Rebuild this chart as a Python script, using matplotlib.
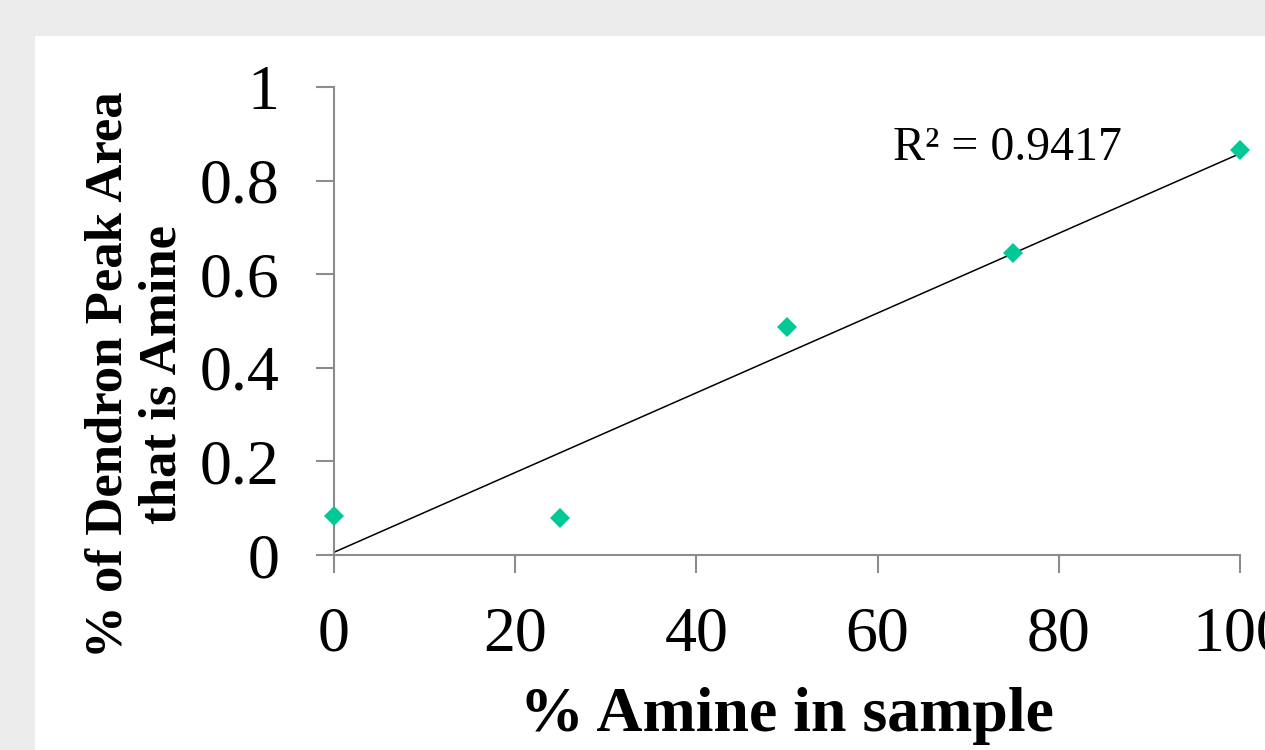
import numpy as np
import matplotlib
matplotlib.use("Agg")
import matplotlib.pyplot as plt
from matplotlib.patches import Rectangle

# Data
amine_pct = [0, 25, 50, 75, 100]
amine_fraction = [0.083, 0.079, 0.487, 0.645, 0.865]
x_ticks = [0, 20, 40, 60, 80, 100]
y_ticks = [0, 0.2, 0.4, 0.6, 0.8, 1.0]
y_tick_labels = ["0", "0.2", "0.4", "0.6", "0.8", "1"]
r2_label = "R² = 0.9417"
x_label = "% Amine in sample"
y_label = "% of Dendron Peak Area\nthat is Amine"

plt.rcParams['font.family'] = ['Liberation Serif', 'DejaVu Serif']

W, H = 1265, 750
fig = plt.figure(figsize=(W / 100, H / 100), dpi=100)
fig.patch.set_facecolor('#ececec')
fig.patches.append(Rectangle((35 / W, 0), 1 - 35 / W, (H - 36) / H,
                             transform=fig.transFigure, facecolor='white',
                             edgecolor='none', zorder=-5))

ax = fig.add_axes([334 / W, (H - 555) / H, (1240 - 334) / W, (555 - 87) / H])
ax.set_facecolor('none')

# trendline
coef = np.polyfit(amine_pct, amine_fraction, 1)
xx = np.array([0, 100])
ax.plot(xx, np.polyval(coef, xx), color='black', lw=1.1, zorder=2)

ax.plot(amine_pct, amine_fraction, linestyle='none', marker='D',
        markersize=10, color='#00C996', markeredgewidth=0, zorder=3,
        clip_on=False)

ax.set_xlim(0, 100)
ax.set_ylim(0, 1)
ax.set_xticks(x_ticks)
ax.set_xticklabels([str(t) for t in x_ticks])
ax.set_yticks(y_ticks)
ax.set_yticklabels(y_tick_labels)

for s in ['top', 'right']:
    ax.spines[s].set_visible(False)
for s in ['left', 'bottom']:
    ax.spines[s].set_color('#8c8c8c')
    ax.spines[s].set_linewidth(1.5)

ax.tick_params(axis='both', direction='out', length=13, width=1.5,
               color='#8c8c8c', labelsize=46, labelcolor='black')
ax.tick_params(axis='x', pad=24)
ax.tick_params(axis='y', pad=26)

ax.set_xlabel(x_label, fontsize=46, fontweight='bold', labelpad=16)
ax.set_ylabel(y_label, fontsize=38, fontweight='bold', linespacing=1.15)
ax.yaxis.set_label_coords(-0.163, 0.385)

ax.text(61.7, 0.844, r2_label, fontsize=34.5, va='baseline', ha='left')

fig.savefig('out.png', dpi=100, facecolor=fig.get_facecolor())
